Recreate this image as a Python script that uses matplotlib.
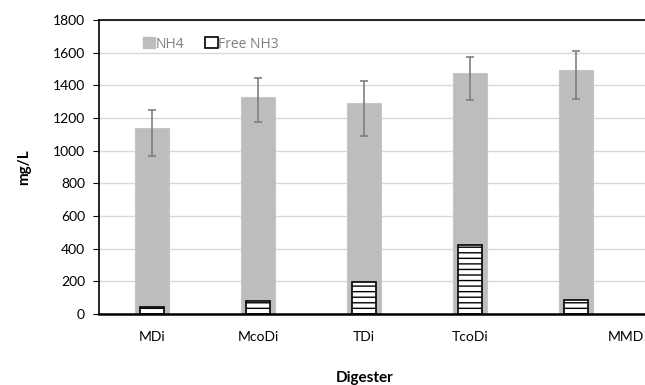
import numpy as np
import matplotlib.pyplot as plt
from matplotlib.patches import Patch

digesters = ["MDi", "McoDi", "TDi", "TcoDi", "MMD"]
nh4 = [1140, 1330, 1290, 1474, 1492]
nh4_low = [970, 1175, 1090, 1312, 1318]
nh4_high = [1250, 1445, 1427, 1575, 1612]
free_nh3 = [45, 80, 195, 425, 85]
yticks = list(range(0, 1801, 200))

plt.rcParams['font.family'] = ['Lato', 'DejaVu Sans']

fig = plt.figure(figsize=(6.45, 3.85), dpi=100)
# plot area runs past the right edge of the picture (cropped original)
ax = fig.add_axes([99 / 645, (385 - 314) / 385, 636 / 645, 294 / 385])

x = np.arange(len(digesters))
mid = (np.array(nh4_low) + np.array(nh4_high)) / 2
half = (np.array(nh4_high) - np.array(nh4_low)) / 2

ax.bar(x, nh4, width=0.32, color="#bdbdbd", edgecolor="#c6c6c6", linewidth=0.8,
       zorder=2, label="NH4")
ax.errorbar(x, mid, yerr=half, fmt="none", ecolor="#7f7f7f", elinewidth=1.2,
            capsize=3, capthick=1.2, zorder=4)
ax.bar(x, free_nh3, width=0.23, color="white", edgecolor="black", linewidth=1.2,
       hatch="---", zorder=3, label="Free NH3")

ax.set_xlim(-0.5, 5.5)
ax.set_ylim(0, 1800)
ax.set_yticks(yticks)
ax.tick_params(axis="y", labelsize=10, length=4, direction="out", color="black", pad=6)
ax.set_xticks(x[:4])
ax.set_xticklabels(digesters[:4], fontsize=10)
ax.tick_params(axis="x", length=0, pad=12)
ax.text(4.64, -0.057, digesters[4], transform=ax.get_xaxis_transform(),
        ha="right", va="top", fontsize=10)

ax.grid(axis="y", color="#d9d9d9", linewidth=1, zorder=0)
ax.set_axisbelow(True)
for s in ["left", "top"]:
    ax.spines[s].set_color("black")
    ax.spines[s].set_linewidth(1.2)
ax.spines["bottom"].set_linewidth(1.8)
ax.spines["right"].set_visible(False)

ax.set_ylabel("mg/L", fontsize=11, fontweight="bold", labelpad=16)
fig.text(365 / 645, 1 - 378 / 385, "Digester", ha="center", va="center",
         fontsize=11, fontweight="bold")

handles = [Patch(facecolor="#bdbdbd", edgecolor="#bdbdbd"),
           Patch(facecolor="white", edgecolor="black", hatch="", linewidth=1.2)]
leg = fig.legend(handles, ["NH4", "Free NH3"], loc="center left",
                 bbox_to_anchor=(130 / 645, 1 - 44 / 385), ncol=2, frameon=False,
                 handlelength=0.9, handleheight=0.9, handletextpad=0.05, columnspacing=1.5,
                 prop={"family": "Open Sans", "size": 10})
for t in leg.get_texts():
    t.set_color("#7f7f7f")

fig.savefig("out.png", dpi=100)
